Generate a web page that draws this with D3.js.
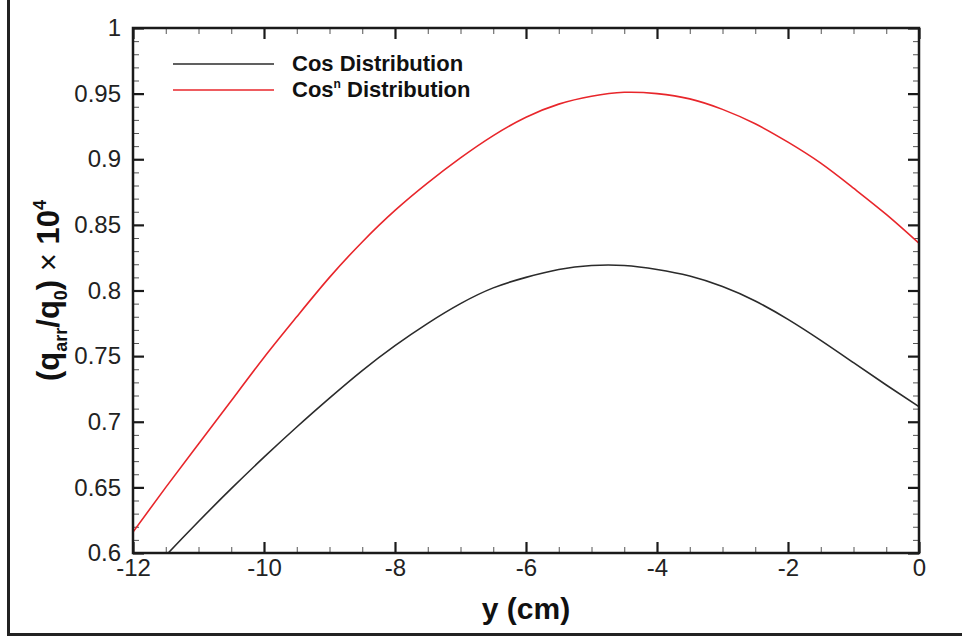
<!DOCTYPE html>
<html>
<head>
<meta charset="utf-8">
<script src="https://cdn.jsdelivr.net/npm/d3@7"></script>
<style>
  html, body { margin: 0; padding: 0; background: #fff; }
  svg { display: block; font-family: "Liberation Sans", Arial, Helvetica, sans-serif; }
</style>
</head>
<body>
<svg id="chart" width="962" height="638"></svg>
<script>
// Position along y (cm)
const positions = [-12, -11.5, -11, -10.5, -10, -9.5, -9, -8.5, -8, -7.5, -7, -6.5, -6,
                   -5.5, -5, -4.5, -4, -3.5, -3, -2.5, -2, -1.5, -1, -0.5, 0];

// Cos distribution, (q_arr/q_0) x 10^4
const cosValues = [0.571, 0.598, 0.624, 0.649, 0.673, 0.696, 0.718, 0.739, 0.758, 0.775,
                   0.790, 0.802, 0.810, 0.816, 0.819, 0.819, 0.816, 0.811, 0.803, 0.792,
                   0.778, 0.762, 0.745, 0.728, 0.7115];

// Cos^n distribution, (q_arr/q_0) x 10^4
const cosNValues = [0.616, 0.650, 0.683, 0.716, 0.749, 0.780, 0.810, 0.837, 0.861, 0.882,
                    0.901, 0.918, 0.932, 0.942, 0.948, 0.951, 0.950, 0.946, 0.938, 0.927,
                    0.913, 0.897, 0.878, 0.858, 0.836];

const xMajorTicks = [-12, -10, -8, -6, -4, -2, 0];
const xTickLabels = ["-12", "-10", "-8", "-6", "-4", "-2", "0"];
const yMajorTicks = [0.6, 0.65, 0.7, 0.75, 0.8, 0.85, 0.9, 0.95, 1];
const yTickLabels = ["0.6", "0.65", "0.7", "0.75", "0.8", "0.85", "0.9", "0.95", "1"];

const seriesNames = ["Cos Distribution", "Cos"];
const seriesColors = ["#2b2b2b", "#e8262b"];

const svg = d3.select("#chart");
const plot = { left: 133, right: 919, top: 28, bottom: 553 };

const x = d3.scaleLinear().domain([-12, 0]).range([plot.left, plot.right]);
const y = d3.scaleLinear().domain([0.6, 1]).range([plot.bottom, plot.top]);

const xMinor = d3.range(-12, 0.0001, 0.5).filter(v => Math.abs(v % 2) > 1e-6);
const yMinor = d3.range(60, 100.5, 1).map(v => v / 100).filter(v => Math.round(v * 100) % 5 !== 0);

// outer frame lines
svg.append("line").attr("x1", 8.5).attr("x2", 8.5).attr("y1", 0).attr("y2", 635)
  .attr("stroke", "#222").attr("stroke-width", 3);
svg.append("line").attr("x1", 7).attr("x2", 962).attr("y1", 634.5).attr("y2", 634.5)
  .attr("stroke", "#222").attr("stroke-width", 3);

const tickFontSize = 24;
const majorLen = 11, minorLen = 6;

function styleAxis(g, major) {
  g.select(".domain").remove();
  g.selectAll(".tick line")
    .attr("stroke", major ? "#1a1a1a" : "#555")
    .attr("stroke-width", major ? 2.2 : 1);
  g.selectAll(".tick text")
    .attr("fill", "#222")
    .style("font-size", tickFontSize + "px")
    .style("font-family", "'Liberation Sans', Arial, sans-serif");
}

// bottom axis
svg.append("g").attr("transform", `translate(0,${plot.bottom})`)
  .call(d3.axisBottom(x).tickValues(xMinor).tickSize(-minorLen).tickFormat(""))
  .call(g => styleAxis(g, false));
svg.append("g").attr("transform", `translate(0,${plot.bottom})`)
  .call(d3.axisBottom(x).tickValues(xMajorTicks).tickSize(-majorLen).tickPadding(6)
    .tickFormat((d, i) => xTickLabels[i]))
  .call(g => styleAxis(g, true));

// top axis (mirrored ticks)
svg.append("g").attr("transform", `translate(0,${plot.top})`)
  .call(d3.axisTop(x).tickValues(xMinor).tickSize(-minorLen).tickFormat(""))
  .call(g => styleAxis(g, false));
svg.append("g").attr("transform", `translate(0,${plot.top})`)
  .call(d3.axisTop(x).tickValues(xMajorTicks).tickSize(-majorLen).tickFormat(""))
  .call(g => styleAxis(g, true));

// left axis
svg.append("g").attr("transform", `translate(${plot.left},0)`)
  .call(d3.axisLeft(y).tickValues(yMinor).tickSize(-minorLen).tickFormat(""))
  .call(g => styleAxis(g, false));
svg.append("g").attr("transform", `translate(${plot.left},0)`)
  .call(d3.axisLeft(y).tickValues(yMajorTicks).tickSize(-majorLen).tickPadding(12)
    .tickFormat((d, i) => yTickLabels[i]))
  .call(g => styleAxis(g, true));

// right axis (mirrored ticks)
svg.append("g").attr("transform", `translate(${plot.right},0)`)
  .call(d3.axisRight(y).tickValues(yMinor).tickSize(-minorLen).tickFormat(""))
  .call(g => styleAxis(g, false));
svg.append("g").attr("transform", `translate(${plot.right},0)`)
  .call(d3.axisRight(y).tickValues(yMajorTicks).tickSize(-majorLen).tickFormat(""))
  .call(g => styleAxis(g, true));

// curves
svg.append("clipPath").attr("id", "plot-clip")
  .append("rect").attr("x", plot.left).attr("y", plot.top)
  .attr("width", plot.right - plot.left).attr("height", plot.bottom - plot.top);

const line = d3.line().x(d => x(d[0])).y(d => y(d[1])).curve(d3.curveNatural);
const curves = [cosValues, cosNValues];
curves.forEach((vals, i) => {
  svg.append("path")
    .datum(positions.map((p, j) => [p, vals[j]]))
    .attr("clip-path", "url(#plot-clip)")
    .attr("fill", "none")
    .attr("stroke", seriesColors[i])
    .attr("stroke-width", 1.6)
    .attr("d", line);
});

// plot frame
svg.append("rect")
  .attr("x", plot.left).attr("y", plot.top)
  .attr("width", plot.right - plot.left).attr("height", plot.bottom - plot.top)
  .attr("fill", "none").attr("stroke", "#1a1a1a").attr("stroke-width", 2.5);

// legend
const legend = svg.append("g");
const legendRows = [64, 90];
legendRows.forEach((ly, i) => {
  legend.append("line")
    .attr("x1", 173).attr("x2", 274).attr("y1", ly).attr("y2", ly)
    .attr("stroke", seriesColors[i]).attr("stroke-width", 1.6);
  const t = legend.append("text")
    .attr("x", 292).attr("y", ly + 7)
    .attr("fill", "#111")
    .style("font-size", "22px").style("font-weight", "bold");
  t.append("tspan").text(seriesNames[i]);
  if (i === 1) {
    t.append("tspan").attr("dy", -9).style("font-size", "12px").text("n");
    t.append("tspan").attr("dy", 9).text(" Distribution");
  }
});

// x axis title
svg.append("text")
  .attr("x", (plot.left + plot.right) / 2).attr("y", 619)
  .attr("text-anchor", "middle")
  .attr("fill", "#111")
  .style("font-size", "30px").style("font-weight", "bold")
  .text("y (cm)");

// y axis title
const yt = svg.append("text")
  .attr("transform", `translate(59,${(plot.top + plot.bottom) / 2}) rotate(-90)`)
  .attr("text-anchor", "middle")
  .attr("fill", "#111")
  .style("font-size", "31px").style("font-weight", "bold");
yt.append("tspan").text("(q");
yt.append("tspan").attr("dy", 8).style("font-size", "18px").text("arr");
yt.append("tspan").attr("dy", -8).text("/q");
yt.append("tspan").attr("dy", 8).style("font-size", "18px").text("0");
yt.append("tspan").attr("dy", -8).text(")");
yt.append("tspan").style("font-weight", "normal").text(" \u00D7 ");
yt.append("tspan").text("10");
yt.append("tspan").attr("dy", -13).style("font-size", "18px").text("4");
</script>
</body>
</html>
